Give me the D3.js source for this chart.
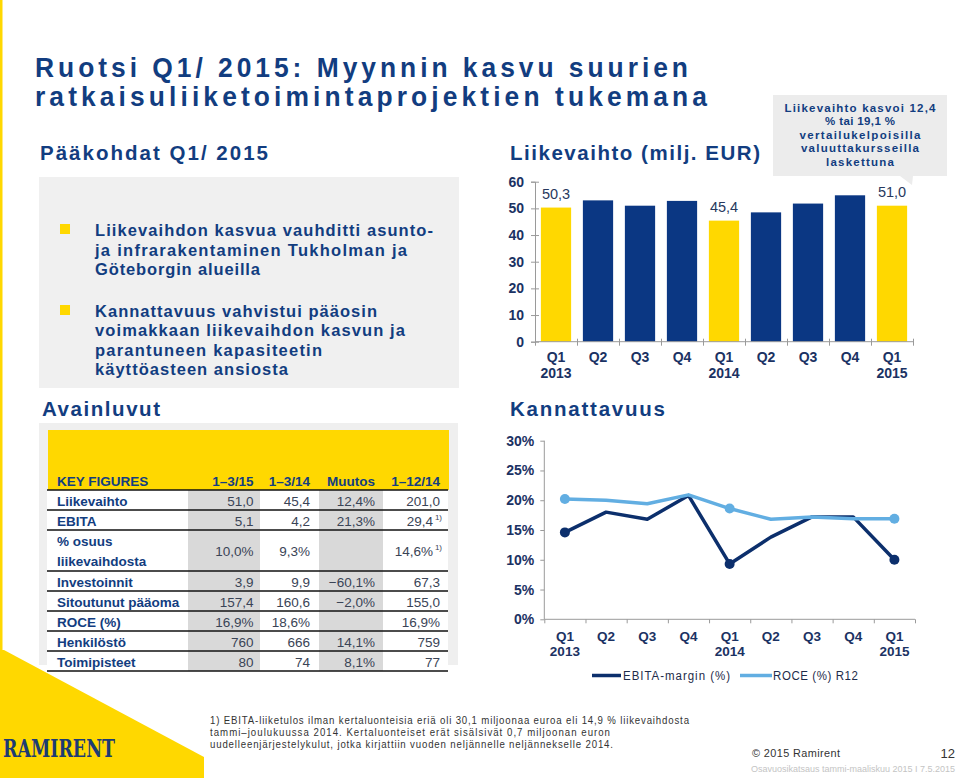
<!DOCTYPE html>
<html>
<head>
<meta charset="utf-8">
<script src="https://cdn.jsdelivr.net/npm/d3@7/dist/d3.min.js"></script>
<style>
  html, body { margin: 0; padding: 0; background: #ffffff; }
  svg { display: block; font-family: "Liberation Sans", Arial, sans-serif; }
</style>
</head>
<body>
<svg id="chart" width="960" height="778"></svg>
<script>
// ---------- DATA ----------
const quarters = ["Q1", "Q2", "Q3", "Q4", "Q1", "Q2", "Q3", "Q4", "Q1"];
const years = ["2013", "", "", "", "2014", "", "", "", "2015"];
const revenue = [50.3, 53.0, 51.0, 52.8, 45.4, 48.5, 51.8, 54.9, 51.0];
const revenueLabels = ["50,3", "", "", "", "45,4", "", "", "", "51,0"];
const revenueTicks = [0, 10, 20, 30, 40, 50, 60];
const ebitaMargin = [14.6, 18.0, 16.8, 20.8, 9.3, 13.8, 17.2, 17.2, 10.0];
const roce = [20.2, 20.0, 19.4, 20.9, 18.6, 16.8, 17.2, 16.9, 16.9];
const markerIdx = [0, 4, 8];
const pctTicks = [0, 5, 10, 15, 20, 25, 30];
const legendLabels = ["EBITA-margin (%)", "ROCE (%) R12"];

const tableHeader = ["KEY FIGURES", "1–3/15", "1–3/14", "Muutos", "1–12/14"];
const tableLabels = [["Liikevaihto"], ["EBITA"], ["% osuus", "liikevaihdosta"], ["Investoinnit"], ["Sitoutunut pääoma"], ["ROCE (%)"], ["Henkilöstö"], ["Toimipisteet"]];
const col1315 = ["51,0", "5,1", "10,0%", "3,9", "157,4", "16,9%", "760", "80"];
const col1314 = ["45,4", "4,2", "9,3%", "9,9", "160,6", "18,6%", "666", "74"];
const colMuutos = ["12,4%", "21,3%", "", "−60,1%", "−2,0%", "", "14,1%", "8,1%"];
const col1214 = ["201,0", "29,4", "14,6%", "67,3", "155,0", "16,9%", "759", "77"];
const col1214Sup = ["", "1)", "1)", "", "", "", "", ""];

const titleLines = ["Ruotsi Q1/ 2015: Myynnin kasvu suurien", "ratkaisuliiketoimintaprojektien tukemana"];
const bullets = [
  ["Liikevaihdon kasvua vauhditti asunto-", "ja infrarakentaminen Tukholman ja", "Göteborgin alueilla"],
  ["Kannattavuus vahvistui pääosin", "voimakkaan liikevaihdon kasvun ja", "parantuneen kapasiteetin", "käyttöasteen ansiosta"]
];
const calloutLines = ["Liikevaihto kasvoi 12,4", "%  tai 19,1 %", "vertailukelpoisilla", "valuuttakursseilla", "laskettuna"];
const footnoteLines = [
  "1) EBITA-liiketulos ilman kertaluonteisia eriä oli 30,1 miljoonaa euroa eli 14,9 % liikevaihdosta",
  "tammi–joulukuussa 2014. Kertaluonteiset erät sisälsivät 0,7 miljoonan euron",
  "uudelleenjärjestelykulut, jotka kirjattiin vuoden neljännelle neljännekselle 2014."
];

// ---------- STYLE ----------
const NAVY = "#123d80";
const BAR_NAVY = "#0b3783";
const YELLOW = "#ffd800";
const LIGHTBLUE = "#62aee2";
const DARKLINE = "#0c2f6c";
const AXIS = "#9a9a9a";
const TICKTXT = "#1b3263";

const svg = d3.select("#chart");

// letter-spaced text: glyphs optionally narrowed by sx, width forced by len (spacing)
function text(g, x, y, s, o = {}) {
  const sx = o.sx || 1;
  const t = g.append("text").attr("x", x / sx).attr("y", y).text(s)
    .attr("font-size", o.size || 13)
    .attr("font-weight", o.weight || "normal")
    .attr("fill", o.fill || NAVY)
    .attr("text-anchor", o.anchor || "start");
  if (sx !== 1) t.attr("transform", `scale(${sx},1)`);
  if (o.len) t.attr("textLength", o.len / sx).attr("lengthAdjust", o.adj || "spacing");
  if (o.family) t.attr("font-family", o.family);
  return t;
}

// ---------- Background decorations ----------
svg.append("rect").attr("x", 0).attr("y", 0).attr("width", 2.5).attr("height", 660).attr("fill", YELLOW);
svg.append("path").attr("d", "M0,650 L4,650 L204,757 L204,778 L0,778 Z").attr("fill", YELLOW);

// ---------- Title ----------
text(svg, 35, 77, titleLines[0], { size: 27.5, weight: "bold", len: 653, sx: 0.96 });
text(svg, 35, 106, titleLines[1], { size: 27.5, weight: "bold", len: 672, sx: 0.96 });

// ---------- Section headings ----------
text(svg, 40, 160, "Pääkohdat Q1/ 2015", { size: 20.5, weight: "bold", len: 228 });
text(svg, 510, 160, "Liikevaihto (milj. EUR)", { size: 20.5, weight: "bold", len: 250 });
text(svg, 42, 416, "Avainluvut", { size: 20.5, weight: "bold", len: 118 });
text(svg, 510, 416, "Kannattavuus", { size: 20.5, weight: "bold", len: 155 });

// ---------- Bullets panel ----------
svg.append("rect").attr("x", 39).attr("y", 177).attr("width", 420).attr("height", 211).attr("fill", "#f0f0f0");
const bulletLens = [[338, 312, 165], [282, 310, 227, 193]];
const bulletY = [[235.5, 255.5, 275], [316.5, 336, 355.5, 374.5]];
const bulletSq = [224, 305];
bullets.forEach((lines, bi) => {
  svg.append("rect").attr("x", 60).attr("y", bulletSq[bi]).attr("width", 10).attr("height", 10).attr("fill", YELLOW);
  lines.forEach((l, li) => text(svg, 95, bulletY[bi][li], l, { size: 16.5, weight: "bold", len: bulletLens[bi][li] }));
});

// ---------- Callout ----------
svg.append("path").attr("d", "M773,95 L947,95 L947,176 L913,176 L912,185 L900,176 L773,176 Z").attr("fill", "#ececec");
const calloutLens = [151, 70, 121, 118, 68];
calloutLines.forEach((l, i) => text(svg, 860, 111.5 + i * 13.6, l, { size: 11.5, weight: "bold", anchor: "middle", len: calloutLens[i] }));

// ---------- Bar chart ----------
const bx = d3.scaleBand().domain(d3.range(quarters.length)).range([535, 913]).paddingInner(0.28).paddingOuter(0.14);
const by = d3.scaleLinear().domain([0, 60]).range([341.7, 181.7]);
const barG = svg.append("g");
barG.selectAll("rect.bar").data(revenue).join("rect")
  .attr("class", "bar")
  .attr("x", (d, i) => bx(i))
  .attr("width", bx.bandwidth())
  .attr("y", d => by(d))
  .attr("height", d => by(0) - by(d))
  .attr("fill", (d, i) => quarters[i] === "Q1" ? YELLOW : BAR_NAVY);
barG.selectAll("text.lbl").data(revenue).join("text")
  .attr("class", "lbl")
  .attr("x", (d, i) => bx(i) + bx.bandwidth() / 2)
  .attr("y", d => by(d) - 8.5)
  .attr("text-anchor", "middle")
  .attr("font-size", 14.5)
  .attr("fill", "#27395e")
  .text((d, i) => revenueLabels[i]);

// y axis
const byAxis = d3.axisLeft(by).tickValues(revenueTicks).tickSize(4).tickFormat(d3.format("d"));
const byG = barG.append("g").attr("transform", "translate(535,0)").call(byAxis);
byG.select(".domain").attr("stroke", AXIS);
byG.selectAll(".tick line").attr("stroke", AXIS).attr("x2", -4).attr("x1", 4);
byG.selectAll(".tick text").attr("x", -11).attr("font-size", 14).attr("font-weight", "bold").attr("fill", TICKTXT).attr("font-family", "Liberation Sans, Arial, sans-serif");
// x axis
const bxPos = d3.scaleLinear().domain([0, quarters.length]).range([535, 913]);
const bxAxis = d3.axisBottom(bxPos).tickValues(d3.range(quarters.length + 1)).tickSize(4).tickFormat("");
const bxG = barG.append("g").attr("transform", "translate(0,341.7)").call(bxAxis);
bxG.select(".domain").attr("stroke", AXIS).attr("d", "M535,0H913");
bxG.selectAll(".tick line").attr("stroke", AXIS).attr("y1", -3);
quarters.forEach((q, i) => {
  const cx = bx(i) + bx.bandwidth() / 2;
  text(barG, cx, 362, q, { size: 14, weight: "bold", anchor: "middle", fill: TICKTXT });
  if (years[i]) text(barG, cx, 377.5, years[i], { size: 14, weight: "bold", anchor: "middle", fill: TICKTXT });
});

// ---------- Line chart ----------
const lx = d3.scalePoint().domain(d3.range(quarters.length)).range([544.3, 915]).padding(0.5);
const ly = d3.scaleLinear().domain([0, 30]).range([619.3, 440.7]);
const lineG = svg.append("g");
const lyAxis = d3.axisLeft(ly).tickValues(pctTicks).tickSize(4).tickFormat(d => d + "%");
const lyG = lineG.append("g").attr("transform", "translate(544.3,0)").call(lyAxis);
lyG.select(".domain").attr("stroke", AXIS).attr("d", "M0,440.7V619.3");
lyG.selectAll(".tick line").attr("stroke", AXIS);
lyG.selectAll(".tick text").attr("x", -10).attr("font-size", 14).attr("font-weight", "bold").attr("fill", TICKTXT).attr("font-family", "Liberation Sans, Arial, sans-serif");
const lxPos = d3.scaleLinear().domain([0, quarters.length]).range([544.3, 915]);
const lxAxis = d3.axisBottom(lxPos).tickValues(d3.range(quarters.length + 1)).tickSize(4).tickFormat("");
const lxG = lineG.append("g").attr("transform", "translate(0,619.3)").call(lxAxis);
lxG.select(".domain").attr("stroke", AXIS).attr("d", "M544.3,0H915");
lxG.selectAll(".tick line").attr("stroke", AXIS);
quarters.forEach((q, i) => {
  text(lineG, lx(i), 640.5, q, { size: 13.5, weight: "bold", anchor: "middle", fill: TICKTXT });
  if (years[i]) text(lineG, lx(i), 655.5, years[i], { size: 13.5, weight: "bold", anchor: "middle", fill: TICKTXT });
});
const lineGen = d3.line().x((d, i) => lx(i)).y(d => ly(d));
[[ebitaMargin, DARKLINE], [roce, LIGHTBLUE]].forEach(([series, col]) => {
  lineG.append("path").datum(series).attr("d", lineGen).attr("fill", "none")
    .attr("stroke", col).attr("stroke-width", 3.5).attr("stroke-linejoin", "round");
  lineG.selectAll(null).data(markerIdx).join("circle")
    .attr("cx", i => lx(i)).attr("cy", i => ly(series[i])).attr("r", 5).attr("fill", col);
});
// legend
lineG.append("line").attr("x1", 592).attr("x2", 621).attr("y1", 675.5).attr("y2", 675.5).attr("stroke", DARKLINE).attr("stroke-width", 3.5);
text(lineG, 623, 680, legendLabels[0], { size: 12.5, fill: "#1d2b4a", len: 107, sx: 0.92 });
lineG.append("line").attr("x1", 740).attr("x2", 772).attr("y1", 675.5).attr("y2", 675.5).attr("stroke", LIGHTBLUE).attr("stroke-width", 3.5);
text(lineG, 773, 680, legendLabels[1], { size: 12.5, fill: "#1d2b4a", len: 85, sx: 0.92 });

// ---------- Key figures table ----------
const tG = svg.append("g");
tG.append("rect").attr("x", 39).attr("y", 423).attr("width", 419).attr("height", 242).attr("fill", "#efefef");
tG.append("rect").attr("x", 48).attr("y", 430).attr("width", 401).attr("height", 60).attr("fill", YELLOW);
const rowH = [20, 20, 41, 20, 20, 20, 20, 20];
const rowTop = [];
let yy = 490;
rowH.forEach(h => { rowTop.push(yy); yy += h; });
tG.append("rect").attr("x", 47).attr("y", 490).attr("width", 401).attr("height", yy - 490).attr("fill", "#ffffff");
tG.append("rect").attr("x", 188).attr("y", 490).attr("width", 72).attr("height", yy - 490).attr("fill", "#d9d9d9");
tG.append("rect").attr("x", 319).attr("y", 490).attr("width", 64).attr("height", yy - 490).attr("fill", "#d9d9d9");
const colRight = [253.5, 310, 375, 440];
text(tG, 57, 486, tableHeader[0], { size: 13.5, weight: "bold" });
tableHeader.slice(1).forEach((h, i) => text(tG, colRight[i], 486, h, { size: 13.5, weight: "bold", anchor: "end" }));
const cols = [col1315, col1314, colMuutos, col1214];
tableLabels.forEach((lab, r) => {
  const top = rowTop[r], h = rowH[r];
  if (lab.length === 1) {
    text(tG, 57, top + 15.5, lab[0], { size: 13.5, weight: "bold" });
  } else {
    text(tG, 57, top + 16, lab[0], { size: 13.5, weight: "bold" });
    text(tG, 57, top + 36, lab[1], { size: 13.5, weight: "bold" });
  }
  const vy = top + h / 2 + 5.5;
  cols.forEach((c, ci) => {
    if (!c[r]) return;
    let xr = colRight[ci];
    if (ci === 3 && col1214Sup[r]) {
      text(tG, colRight[3] + 2, vy - 6, col1214Sup[r], { size: 8, fill: "#3a4456", anchor: "end" });
      xr = colRight[3] - 7;
    }
    text(tG, xr, vy, c[r], { size: 13.5, fill: "#3a4456", anchor: "end" });
  });
});
[490].concat(rowTop.slice(1), [yy]).forEach(ly2 => {
  tG.append("line").attr("x1", 47).attr("x2", 448).attr("y1", ly2).attr("y2", ly2).attr("stroke", "#111").attr("stroke-width", 1.6);
});

// ---------- Footer ----------
text(svg, 3, 757, "RAMIRENT", { size: 25, weight: "bold", fill: "#1d3b73", family: "DejaVu Serif, serif", len: 112, adj: "spacingAndGlyphs" });
const fnLens = [479, 400, 403];
footnoteLines.forEach((l, i) => text(svg, 210, 724 + i * 11.8, l, { size: 10.5, fill: "#333333", len: fnLens[i], sx: 0.92 }));
text(svg, 752, 757, "© 2015 Ramirent", { size: 11.5, fill: "#333333", len: 88, sx: 0.95 });
text(svg, 955, 757.5, "12", { size: 13, fill: "#333333", anchor: "end" });
text(svg, 955, 771.5, "Osavuosikatsaus tammi-maaliskuu 2015 I 7.5.2015", { size: 9, fill: "#c4c4c4", anchor: "end" });
</script>
</body>
</html>
